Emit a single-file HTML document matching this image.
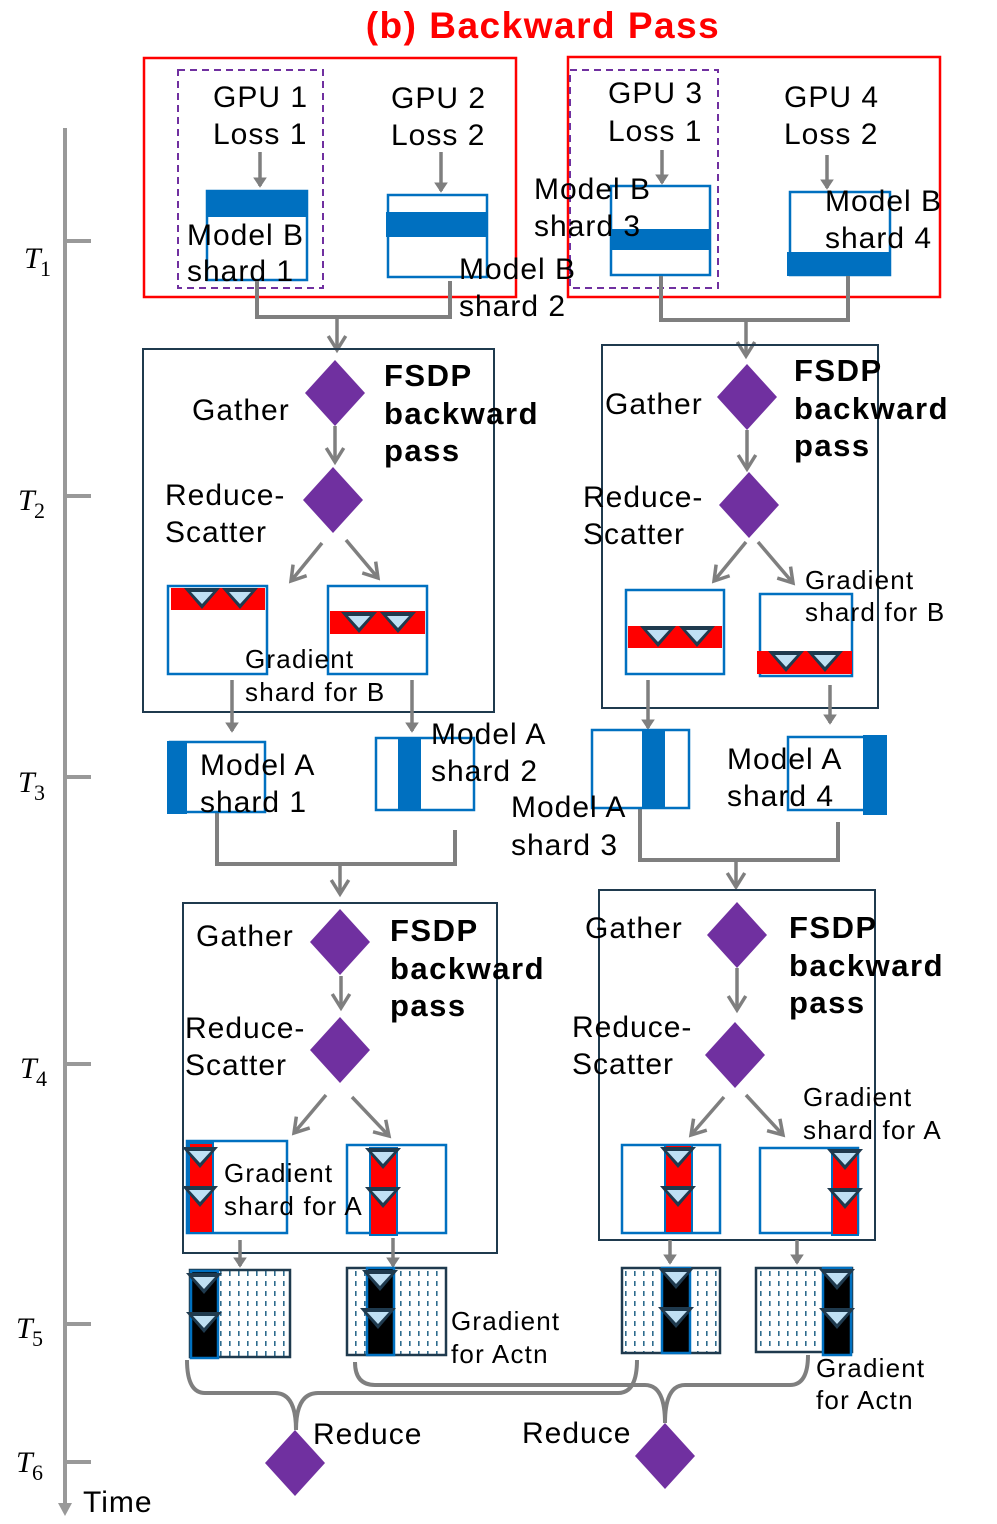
<!DOCTYPE html>
<html><head><meta charset="utf-8"><style>
html,body{margin:0;padding:0;background:#fff}
svg{display:block}
text{font-family:"Liberation Sans",sans-serif;fill:#000}
.l{font-size:30px;letter-spacing:1px}
.b{font-size:31px;font-weight:bold;letter-spacing:1.5px}
.s{font-size:26px;letter-spacing:1.2px}
.t{font-family:"Liberation Serif",serif;font-style:italic;font-size:30px}
.sub{font-family:"Liberation Serif",serif;font-size:22px}
</style></head><body>
<svg width="997" height="1524" viewBox="0 0 997 1524" xmlns="http://www.w3.org/2000/svg">
<defs>
<marker id="tri" markerWidth="4" markerHeight="4" refX="2.5" refY="2" orient="auto" markerUnits="strokeWidth">
<path d="M0,0 L3,2 L0,4 z" fill="#7f7f7f"/></marker>
<marker id="chev" markerWidth="6" markerHeight="6" refX="4.5" refY="3" orient="auto" markerUnits="strokeWidth">
<path d="M0.5,0.5 L4.5,3 L0.5,5.5" fill="none" stroke="#7f7f7f" stroke-width="1"/></marker>
<pattern id="dots" width="9" height="10" patternUnits="userSpaceOnUse">
<rect width="9" height="10" fill="#fff"/><rect x="4" y="1" width="1.6" height="5" fill="#2e6c8e"/></pattern>
<g id="tr"><path d="M-18,-10 L18,-10 L0,11 z" fill="#1f3a4e"/><path d="M-11,-6 L11,-6 L0,6 z" fill="#bfe0f4"/></g>
</defs>

<text x="543" y="38" text-anchor="middle" style="font-size:37px;font-weight:bold;fill:#ff0000;letter-spacing:1.5px">(b) Backward Pass</text>

<g stroke="#999" stroke-width="4">
<line x1="65" y1="128" x2="65" y2="1508"/>
<line x1="65" y1="241" x2="91" y2="241"/>
<line x1="65" y1="496" x2="91" y2="496"/>
<line x1="65" y1="777" x2="91" y2="777"/>
<line x1="65" y1="1064" x2="91" y2="1064"/>
<line x1="65" y1="1324" x2="91" y2="1324"/>
<line x1="65" y1="1462" x2="91" y2="1462"/>
</g>
<path d="M58,1503 L65,1516 L72,1503 z" fill="#999"/>
<text class="t" x="24" y="268">T</text><text class="sub" x="40" y="276">1</text>
<text class="t" x="18" y="510">T</text><text class="sub" x="34" y="518">2</text>
<text class="t" x="18" y="792">T</text><text class="sub" x="34" y="800">3</text>
<text class="t" x="20" y="1078">T</text><text class="sub" x="36" y="1086">4</text>
<text class="t" x="16" y="1338">T</text><text class="sub" x="32" y="1346">5</text>
<text class="t" x="16" y="1472">T</text><text class="sub" x="32" y="1480">6</text>
<text class="l" x="83" y="1512">Time</text>

<rect x="144" y="58" width="372" height="239" fill="none" stroke="#ff0000" stroke-width="2.5"/>
<rect x="568" y="57" width="372" height="240" fill="none" stroke="#ff0000" stroke-width="2.5"/>
<rect x="178" y="70" width="145" height="218" fill="none" stroke="#7030a0" stroke-width="2" stroke-dasharray="7,5"/>
<rect x="570" y="70" width="148" height="218" fill="none" stroke="#7030a0" stroke-width="2" stroke-dasharray="7,5"/>
<text class="l" x="213" y="107">GPU 1</text><text class="l" x="213" y="144">Loss 1</text>
<text class="l" x="391" y="108">GPU 2</text><text class="l" x="391" y="145">Loss 2</text>
<text class="l" x="608" y="103">GPU 3</text><text class="l" x="608" y="141">Loss 1</text>
<text class="l" x="784" y="107">GPU 4</text><text class="l" x="784" y="144">Loss 2</text>
<g stroke="#7f7f7f" stroke-width="3.5" marker-end="url(#tri)">
<line x1="260" y1="152" x2="260" y2="186"/>
<line x1="441" y1="152" x2="441" y2="191"/>
<line x1="662" y1="150" x2="662" y2="183"/>
<line x1="827" y1="155" x2="827" y2="188"/>
</g>
<g fill="none" stroke="#0070c0" stroke-width="2.5">
<rect x="207" y="191" width="100" height="89"/>
<rect x="388" y="195" width="99" height="82"/>
<rect x="611" y="186" width="99" height="89"/>
<rect x="790" y="192" width="100" height="83"/>
</g>
<g fill="#0070c0">
<rect x="206" y="190" width="102" height="27"/>
<rect x="386" y="212" width="101" height="25"/>
<rect x="611" y="229" width="99" height="21"/>
<rect x="787" y="252" width="103" height="24"/>
</g>
<text class="l" x="187" y="245">Model B</text><text class="l" x="187" y="281">shard 1</text>
<text class="l" x="459" y="279">Model B</text><text class="l" x="459" y="316">shard 2</text>
<text class="l" x="534" y="199">Model B</text><text class="l" x="534" y="236">shard 3</text>
<text class="l" x="825" y="211">Model B</text><text class="l" x="825" y="248">shard 4</text>
<g fill="none" stroke="#7f7f7f" stroke-width="4">
<path d="M257,281 V317 H450 V281"/>
<path d="M661,276 V320 H848 V276"/>
<path d="M217,812 V864 H455 V830"/>
<path d="M640,808 V860 H838 V822"/>
</g>
<g stroke="#7f7f7f" stroke-width="3.5" marker-end="url(#chev)">
<line x1="337" y1="317" x2="337" y2="350"/>
<line x1="746" y1="320" x2="746" y2="356"/>
<line x1="340" y1="864" x2="340" y2="894"/>
<line x1="736" y1="860" x2="736" y2="887"/>
</g>

<g fill="none" stroke="#1f3a4e" stroke-width="2">
<rect x="143" y="349" width="351" height="363"/>
<rect x="602" y="345" width="276" height="363"/>
<rect x="183" y="903" width="314" height="350"/>
<rect x="599" y="890" width="276" height="350"/>
</g>
<g fill="#7030a0">
<path d="M335,360 L365,393 L335,426 L305,393 z"/>
<path d="M333,467 L363,500 L333,533 L303,500 z"/>
<path d="M747,364 L777,397 L747,430 L717,397 z"/>
<path d="M749,472 L779,505 L749,538 L719,505 z"/>
<path d="M340,909 L370,942 L340,975 L310,942 z"/>
<path d="M340,1017 L370,1050 L340,1083 L310,1050 z"/>
<path d="M737,902 L767,935 L737,968 L707,935 z"/>
<path d="M735,1022 L765,1055 L735,1088 L705,1055 z"/>
<path d="M295,1430 L325,1463 L295,1496 L265,1463 z"/>
<path d="M665,1423 L695,1456 L665,1489 L635,1456 z"/>
</g>
<g stroke="#7f7f7f" stroke-width="3.5" marker-end="url(#chev)">
<line x1="335" y1="426" x2="335" y2="462"/>
<line x1="322" y1="543" x2="291" y2="581"/>
<line x1="346" y1="540" x2="378" y2="578"/>
<line x1="747" y1="430" x2="747" y2="469"/>
<line x1="746" y1="542" x2="714" y2="581"/>
<line x1="758" y1="542" x2="793" y2="583"/>
<line x1="341" y1="976" x2="341" y2="1008"/>
<line x1="326" y1="1095" x2="294" y2="1133"/>
<line x1="352" y1="1097" x2="389" y2="1136"/>
<line x1="737" y1="968" x2="737" y2="1010"/>
<line x1="724" y1="1097" x2="691" y2="1135"/>
<line x1="746" y1="1095" x2="783" y2="1135"/>
</g>
<g stroke="#7f7f7f" stroke-width="3.5" marker-end="url(#tri)">
<line x1="232" y1="680" x2="232" y2="731"/>
<line x1="412" y1="680" x2="412" y2="731"/>
<line x1="648" y1="680" x2="648" y2="728"/>
<line x1="830" y1="685" x2="830" y2="723"/>
<line x1="240" y1="1240" x2="240" y2="1266"/>
<line x1="393" y1="1238" x2="393" y2="1266"/>
<line x1="670" y1="1240" x2="670" y2="1263"/>
<line x1="797" y1="1240" x2="797" y2="1263"/>
</g>
<text class="l" x="192" y="420">Gather</text>
<text class="b" x="384" y="386">FSDP</text><text class="b" x="384" y="424">backward</text><text class="b" x="384" y="461">pass</text>
<text class="l" x="165" y="505">Reduce-</text><text class="l" x="165" y="542">Scatter</text>
<text class="l" x="605" y="414">Gather</text>
<text class="b" x="794" y="381">FSDP</text><text class="b" x="794" y="419">backward</text><text class="b" x="794" y="456">pass</text>
<text class="l" x="583" y="507">Reduce-</text><text class="l" x="583" y="544">Scatter</text>
<text class="l" x="196" y="946">Gather</text>
<text class="b" x="390" y="941">FSDP</text><text class="b" x="390" y="979">backward</text><text class="b" x="390" y="1016">pass</text>
<text class="l" x="185" y="1038">Reduce-</text><text class="l" x="185" y="1075">Scatter</text>
<text class="l" x="585" y="938">Gather</text>
<text class="b" x="789" y="938">FSDP</text><text class="b" x="789" y="976">backward</text><text class="b" x="789" y="1013">pass</text>
<text class="l" x="572" y="1037">Reduce-</text><text class="l" x="572" y="1074">Scatter</text>

<g fill="#fff" stroke="#0070c0" stroke-width="2.5">
<rect x="168" y="586" width="99" height="88"/>
<rect x="328" y="586" width="99" height="88"/>
<rect x="626" y="590" width="98" height="84"/>
<rect x="760" y="594" width="92" height="82"/>
</g>
<g fill="#ff0000">
<rect x="171" y="588" width="94" height="22"/>
<rect x="330" y="611" width="95" height="23"/>
<rect x="628" y="626" width="94" height="22"/>
<rect x="757" y="651" width="95" height="23"/>
</g>
<use href="#tr" x="202" y="598"/><use href="#tr" x="240" y="598"/>
<use href="#tr" x="359" y="622"/><use href="#tr" x="398" y="622"/>
<use href="#tr" x="658" y="636"/><use href="#tr" x="697" y="636"/>
<use href="#tr" x="786" y="661"/><use href="#tr" x="825" y="661"/>
<text class="s" x="245" y="668">Gradient</text><text class="s" x="245" y="701">shard for B</text>
<text class="s" x="805" y="589">Gradient</text><text class="s" x="805" y="621">shard for B</text>

<g fill="#fff" stroke="#0070c0" stroke-width="2.5">
<rect x="170" y="742" width="95" height="70"/>
<rect x="376" y="738" width="98" height="72"/>
<rect x="592" y="730" width="97" height="78"/>
<rect x="788" y="737" width="97" height="73"/>
</g>
<g fill="#0070c0">
<rect x="167" y="741" width="20" height="73"/>
<rect x="398" y="738" width="23" height="72"/>
<rect x="642" y="730" width="23" height="78"/>
<rect x="863" y="735" width="24" height="80"/>
</g>
<text class="l" x="200" y="775">Model A</text><text class="l" x="200" y="812">shard 1</text>
<text class="l" x="431" y="744">Model A</text><text class="l" x="431" y="781">shard 2</text>
<text class="l" x="511" y="817">Model A</text><text class="l" x="511" y="855">shard 3</text>
<text class="l" x="727" y="769">Model A</text><text class="l" x="727" y="806">shard 4</text>

<g fill="#fff" stroke="#0070c0" stroke-width="2.5">
<rect x="187" y="1141" width="100" height="92"/>
<rect x="347" y="1145" width="99" height="88"/>
<rect x="622" y="1145" width="98" height="88"/>
<rect x="760" y="1148" width="98" height="85"/>
</g>
<g fill="#ff0000" stroke="#0070c0" stroke-width="2">
<rect x="189" y="1143" width="24" height="90"/>
<rect x="370" y="1148" width="27" height="87"/>
<rect x="665" y="1145" width="27" height="88"/>
<rect x="832" y="1148" width="26" height="87"/>
</g>
<use href="#tr" x="200" y="1157"/><use href="#tr" x="200" y="1196"/>
<use href="#tr" x="383" y="1158"/><use href="#tr" x="383" y="1197"/>
<use href="#tr" x="678" y="1157"/><use href="#tr" x="678" y="1196"/>
<use href="#tr" x="845" y="1159"/><use href="#tr" x="845" y="1198"/>
<text class="s" x="224" y="1182">Gradient</text><text class="s" x="224" y="1215">shard for A</text>
<text class="s" x="803" y="1106">Gradient</text><text class="s" x="803" y="1139">shard for A</text>

<g fill="url(#dots)" stroke="#1f3a4e" stroke-width="2.5">
<rect x="190" y="1270" width="100" height="87"/>
<rect x="347" y="1268" width="99" height="87"/>
<rect x="622" y="1268" width="98" height="85"/>
<rect x="756" y="1268" width="96" height="84"/>
</g>
<g fill="#000" stroke="#0070c0" stroke-width="2.5">
<rect x="191" y="1271" width="27" height="87"/>
<rect x="367" y="1268" width="27" height="87"/>
<rect x="662" y="1268" width="28" height="85"/>
<rect x="823" y="1268" width="28" height="87"/>
</g>
<use href="#tr" x="204" y="1283"/><use href="#tr" x="204" y="1322"/>
<use href="#tr" x="380" y="1280"/><use href="#tr" x="378" y="1318"/>
<use href="#tr" x="676" y="1278"/><use href="#tr" x="676" y="1317"/>
<use href="#tr" x="837" y="1279"/><use href="#tr" x="837" y="1318"/>
<text class="s" x="451" y="1330">Gradient</text><text class="s" x="451" y="1363">for Actn</text>
<text class="s" x="816" y="1377">Gradient</text><text class="s" x="816" y="1409">for Actn</text>

<g fill="none" stroke="#7f7f7f" stroke-width="4">
<path d="M187,1360 Q187,1393 205,1393 H275 Q296,1393 296,1430"/>
<path d="M296,1430 Q296,1393 318,1393 H618 Q637,1393 637,1360"/>
<path d="M355,1362 Q355,1385 375,1385 H645 Q665,1385 665,1423"/>
<path d="M665,1423 Q665,1385 685,1385 H790 Q808,1385 808,1355"/>
</g>
<text class="l" x="313" y="1444">Reduce</text>
<text class="l" x="522" y="1443">Reduce</text>
</svg>
</body></html>
